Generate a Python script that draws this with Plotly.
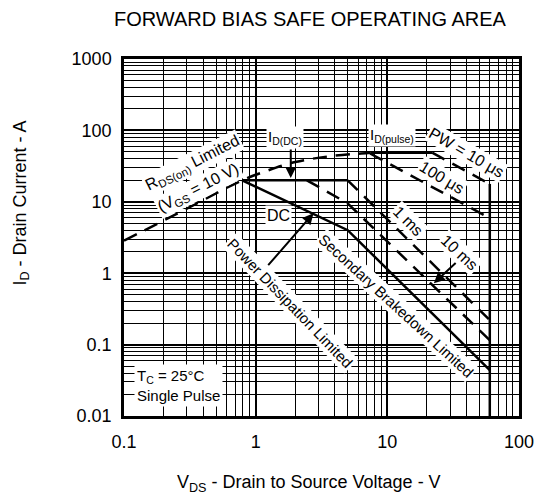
import plotly.graph_objects as go

# ---- data ----
rds_v = [0.1, 0.3, 0.79, 1.24, 2.0, 3.5, 6.3, 7.5]
rds_i = [2.85, 8.0, 20, 27.5, 36, 43, 47.5, 48.7]

pulse_v = [7.5, 21.9]          # ID(pulse) flat
pulse_i = [48.7, 48.7]

pw10us_v = [21.9, 60]
pw10us_i = [48.7, 17.8]

vmax_v = [60, 60]              # VDSS vertical limit
vmax_i = [17.8, 0.01]

pw100us_v = [7.4, 60]
pw100us_i = [47.5, 5.9]

iddc_v = [0.79, 5]
iddc_i = [20, 20]

pw1ms_v = [5, 60]
pw1ms_i = [20, 0.22]

pw10ms_v = [2.45, 5, 60]
pw10ms_i = [20, 9.5, 0.115]

dc_v = [0.79, 5, 60]
dc_i = [20, 4.0, 0.044]

x_ticks = [0.1, 1, 10, 100]
x_ticktext = ["0.1", "1", "10", "100"]
y_ticks = [0.01, 0.1, 1, 10, 100, 1000]
y_ticktext = ["0.01", "0.1", "1", "10", "100", "1000"]

FONT = "Liberation Sans, Arial, sans-serif"
SCREEN_W, SCREEN_H = 546, 501
BODY = 8                         # default page margin of the html body
W, H = SCREEN_W - BODY, SCREEN_H - BODY
L, R, T, B = 124, 529, 59, 416   # plot frame in screen pixels


def px(x, y):
    return (x - L) / (R - L), (B - y) / (B - T)


fig = go.Figure()
DASH = "14px,9px"
LW = 2.5


def add(v, i, dash=None, shape="linear"):
    fig.add_trace(go.Scatter(x=v, y=i, mode="lines",
                             line=dict(color="black", width=LW, dash=dash or "solid", shape=shape),
                             hoverinfo="skip", showlegend=False))


add(rds_v, rds_i, DASH, "spline")
add(pulse_v, pulse_i)
add(pw10us_v, pw10us_i, DASH)
add(vmax_v, vmax_i)
add(pw100us_v, pw100us_i, DASH)
add(iddc_v, iddc_i)
add(pw1ms_v, pw1ms_i, DASH)
add(pw10ms_v, pw10ms_i, DASH)
add(dc_v, dc_i)

ann = []


def text(s, x, y, angle=0, size=15, bg="white", **kw):
    xp, yp = px(x, y)
    d = dict(text=s, x=xp, y=yp, xref="paper", yref="paper", showarrow=False,
             textangle=angle, font=dict(family=FONT, size=size, color="black"),
             xanchor="center", yanchor="middle", borderpad=1)
    if bg:
        d["bgcolor"] = bg
    d.update(kw)
    ann.append(d)


def arrow(tail, head):
    xp, yp = px(*head)
    ann.append(dict(text="", x=xp, y=yp, xref="paper", yref="paper", showarrow=True,
                    ax=tail[0] - head[0], ay=tail[1] - head[1], arrowhead=2,
                    arrowsize=1.1, arrowwidth=2, arrowcolor="black", standoff=0))


text("FORWARD BIAS SAFE OPERATING AREA", 315, 19, size=20, bg=None)
text("I<sub>D</sub> - Drain Current - A", 18, 203, angle=-90, size=18, bg=None)
text("V<sub>DS</sub> - Drain to Source Voltage - V", 314, 483, size=18, bg=None)

text("R<sub>DS(on)</sub> Limited", 194, 163, angle=-27, size=16)
text("(V<sub>GS</sub> = 10 V)", 200, 188, angle=-27, size=16)
text("I<sub>D(DC)</sub>", 289, 137, size=15)
text("I<sub>D(pulse)</sub>", 399, 135, size=15)
text("PW = 10 μs", 475, 152, angle=30, size=16)
text("100 μs", 450, 177, angle=31, size=16)
text("1 ms", 416, 221, angle=45, size=16)
text("10 ms", 468, 252, angle=43, size=16)
text("DC", 282, 215, size=16)
text("Power Dissipation Limited", 295, 303, angle=46, size=15)
text("Secondary Brakedown Limited", 403, 305, angle=42.5, size=15)
xp, yp = px(134, 385)
ann.append(dict(text="T<sub>C</sub> = 25°C<br>Single Pulse", x=xp, y=yp, xref="paper", yref="paper",
                showarrow=False, align="left", xanchor="left", yanchor="middle",
                font=dict(family=FONT, size=15, color="black"), bgcolor="white", borderpad=2))

arrow((295, 148), (295, 178))
arrow((271.7, 266.7), (318.3, 213.3))
arrow((465, 261.7), (441.7, 283.3))

axis_common = dict(
    type="log", showline=True, linecolor="black", linewidth=2.5, mirror=True,
    showgrid=True, gridcolor="black", gridwidth=1.5, zeroline=False,
    ticks="", tickfont=dict(family=FONT, size=18, color="black"),
    minor=dict(dtick="D1", showgrid=True, gridcolor="black", gridwidth=1, ticks=""),
)

fig.update_layout(
    width=W, height=H,
    margin=dict(l=L - BODY, r=SCREEN_W - R, t=T - BODY, b=SCREEN_H - B, pad=0),
    paper_bgcolor="white", plot_bgcolor="white",
    annotations=ann,
    xaxis=dict(axis_common, range=[-1, 2], tickvals=x_ticks, ticktext=x_ticktext, ticklabelstandoff=8),
    yaxis=dict(axis_common, range=[-2, 3], tickvals=y_ticks, ticktext=y_ticktext, ticklabelstandoff=6),
    font=dict(family=FONT, color="black"),
)

fig.write_html("out.html")
